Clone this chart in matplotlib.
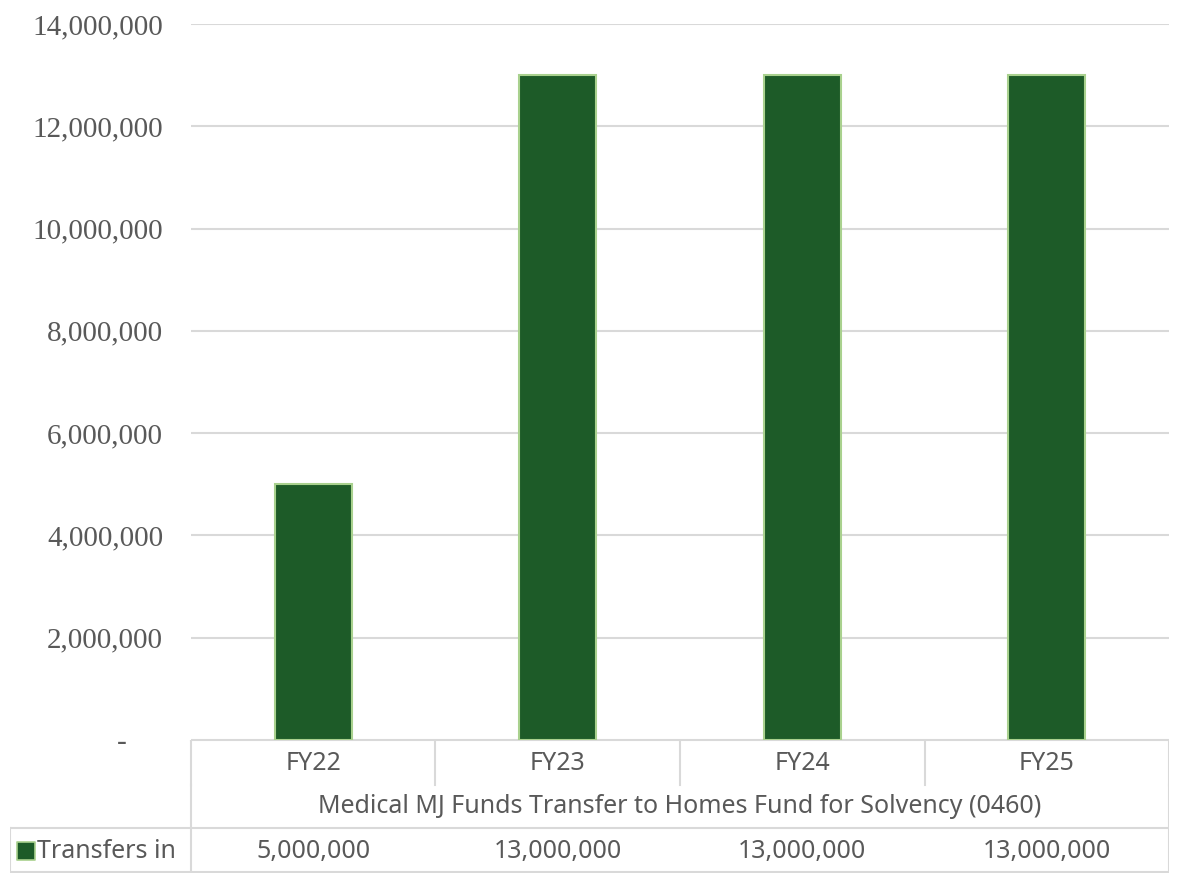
import matplotlib.pyplot as plt
import numpy as np

# Data
categories = ['FY22', 'FY23', 'FY24', 'FY25']
group_label = 'Medical MJ Funds Transfer to Homes Fund for Solvency (0460)'
series_name = 'Transfers in'
transfers_in = [5000000, 13000000, 13000000, 13000000]
y_ticks = [0, 2000000, 4000000, 6000000, 8000000, 10000000, 12000000, 14000000]

# Styles
bar_color = '#1d5b28'
bar_edge = '#a9d18e'
grid_color = '#d9d9d9'
text_color = '#595959'
W, H = 1178, 880

plt.rcParams['figure.dpi'] = 100
fig = plt.figure(figsize=(W / 100, H / 100))

# chart area (pixel box -> figure fractions)
ax = fig.add_axes([191 / W, (H - 740) / H, 978 / W, 716 / H])
x = np.arange(len(categories))
ax.bar(x, transfers_in, width=0.315, color=bar_color, edgecolor=bar_edge, linewidth=1.5, zorder=3)
ax.set_xlim(-0.5, len(categories) - 0.5)
ax.set_ylim(0, 14000000)
ax.set_yticks(y_ticks)
ax.set_yticklabels(['-     ' if v == 0 else f'{v:,}' for v in y_ticks],
                   family='Liberation Serif', fontsize=21, color=text_color)
ax.tick_params(axis='y', length=0, pad=20)
ax.set_xticks([])
ax.yaxis.grid(True, color=grid_color, linewidth=1.5, zorder=0)
for s in ax.spines.values():
    s.set_visible(False)

# data table below the chart
tab = fig.add_axes([10 / W, (H - 873) / H, 1159 / W, 133 / H])
x_left = -0.5 - 181 / 244.5
x_right = len(categories) - 0.5
tab.set_xlim(x_left, x_right)
tab.set_ylim(133, 0)
tab.axis('off')
lk = dict(color=grid_color, linewidth=1.5, solid_capstyle='projecting')
tab.plot([-0.5, x_right], [0, 0], **lk)
for i in range(len(categories) + 1):
    tab.plot([i - 0.5, i - 0.5], [0, 45], **lk)
tab.plot([-0.5, -0.5], [45, 133], **lk)
tab.plot([x_right, x_right], [45, 133], **lk)
tab.plot([x_left, x_right], [88, 88], **lk)
tab.plot([x_left, x_right], [132, 132], **lk)
tab.plot([x_left, x_left], [88, 132], **lk)

tf = dict(family='Noto Sans', fontsize=18, color=text_color, ha='center', va='center')
for i, c in enumerate(categories):
    tab.text(i, 23, c, **tf)
tab.text((len(categories) - 1) / 2, 66, group_label, **tf)
for i, v in enumerate(transfers_in):
    tab.text(i, 111, f'{v:,}', **tf)
# legend key and series name
tab.scatter([x_left + 16 / 244.5], [111], marker='s', s=150, color=bar_color,
            edgecolors=bar_edge, linewidths=1.2, clip_on=False)
tab.text(x_left + 27 / 244.5, 111, series_name, **{**tf, 'ha': 'left'})

fig.savefig('out.png', dpi=100)
